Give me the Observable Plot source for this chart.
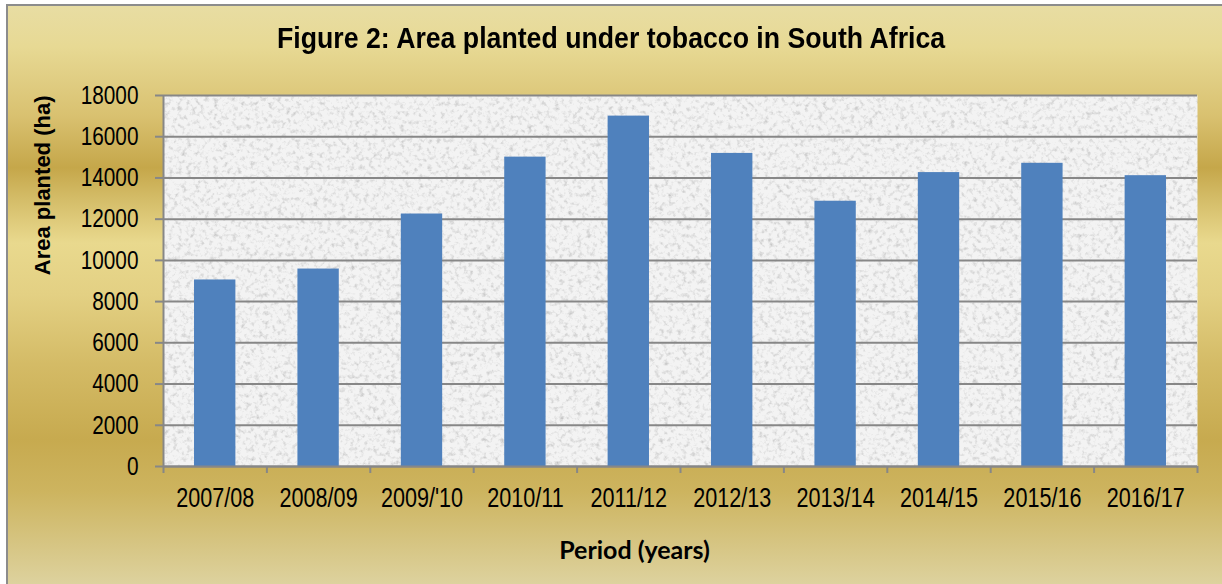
<!DOCTYPE html>
<html>
<head>
<meta charset="utf-8">
<script src="https://cdn.jsdelivr.net/npm/d3@7"></script>
<script src="https://cdn.jsdelivr.net/npm/@observablehq/plot@0.6"></script>
<style>
  html, body { margin: 0; padding: 0; background: #ffffff; }
  #outer { position: relative; width: 1222px; height: 584px; overflow: hidden; background: #fff; }
  #panel {
    position: absolute; left: 6px; top: 4px; right: 0; bottom: 0;
    border-left: 2px solid #8c8c8c; border-top: 2px solid #8c8c8c;
    background: linear-gradient(to bottom,
      #e8dda3 0%, #e7d994 7%, #d9c170 19%, #c5a74a 28%, #d3bb66 33%,
      #e9d98e 41%, #e3d083 50%, #d4bb66 62%, #c7aa4f 75%, #cdb45f 84%, #ddd29e 100%);
  }
  #chart { position: absolute; left: 0; top: 0; width: 1222px; height: 584px; }
  #title {
    height: 70px; line-height: 1; box-sizing: border-box; padding-top: 24px;
    text-align: center; font-family: "Liberation Sans", Arial, sans-serif;
    font-weight: bold; font-size: 29px; color: #000; white-space: nowrap;
  }
  #title span { display: inline-block; transform: scaleX(0.92); transform-origin: 50% 50%; }
</style>
</head>
<body>
<div id="outer">
  <div id="panel"></div>
  <div id="chart">
    <div id="title"><span>Figure 2: Area planted under tobacco in South Africa</span></div>
  </div>
</div>
<script>
const periods = ["2007/08", "2008/09", "2009/'10", "2010/11", "2011/12", "2012/13", "2013/14", "2014/15", "2015/16", "2016/17"];
const areaPlanted = [9050, 9580, 12250, 15010, 17000, 15190, 12870, 14260, 14710, 14110];
const yTicks = [0, 2000, 4000, 6000, 8000, 10000, 12000, 14000, 16000, 18000];
const yLabel = "Area planted (ha)";
const xLabel = "Period (years)";

const data = periods.map((p, i) => ({i, period: p, area: areaPlanted[i]}));
const boundaries = d3.range(-0.5, periods.length, 1);
const BAR_HALF = 0.2;
const sans = '"Liberation Sans", Arial, sans-serif';
const gridColor = "#878787";

const chart = Plot.plot({
  width: 1222,
  height: 514,
  marginTop: 25,
  marginBottom: 118,
  marginLeft: 163,
  marginRight: 25,
  style: {background: "transparent", fontFamily: sans, color: "#000", overflow: "visible"},
  x: {domain: [-0.5, periods.length - 0.5], axis: null},
  y: {domain: [0, 18000], axis: null},
  marks: [
    Plot.frame({fill: "#f3f3f3", stroke: null}),
    Plot.gridY(yTicks, {stroke: gridColor, strokeOpacity: 1, strokeWidth: 2}),
    Plot.rectY(data, {x1: d => d.i - BAR_HALF, x2: d => d.i + BAR_HALF, y: "area", fill: "#4f81bd"}),
    Plot.ruleY([0], {stroke: gridColor, strokeWidth: 2}),
    Plot.ruleX([-0.5], {stroke: gridColor, strokeWidth: 2}),
    Plot.axisY({ticks: yTicks, tickSize: 8, tickPadding: 17, fontSize: 26, stroke: gridColor, strokeWidth: 2, tickFormat: d => String(d), label: null}),
    Plot.axisX({ticks: d3.range(periods.length), tickSize: 0, tickPadding: 21, fontSize: 27, tickFormat: i => periods[i], label: null}),
    Plot.axisX({ticks: boundaries, tickSize: 7, tickFormat: () => "", stroke: gridColor, strokeWidth: 2, label: null}),
    Plot.text([yLabel], {text: d => d, frameAnchor: "top-left", rotate: -90, textAnchor: "end", lineAnchor: "middle", dx: -121, fontSize: 22, fontWeight: "bold", fill: "#000"}),
    Plot.text([xLabel], {text: d => d, frameAnchor: "bottom-left", textAnchor: "middle", lineAnchor: "middle", dx: 471, dy: 84, fontSize: 25, fontWeight: "bold", fontFamily: "Lato, sans-serif", fill: "#000"})
  ]
});

// granite-like texture on the plot area
const ns = "http://www.w3.org/2000/svg";
const svg = chart.tagName.toLowerCase() === "svg" ? chart : chart.querySelector("svg");
const defs = document.createElementNS(ns, "defs");
defs.innerHTML = `
  <filter id="granite" x="0" y="0" width="1" height="1">
    <feTurbulence type="fractalNoise" baseFrequency="0.22" numOctaves="3" seed="7" result="n"/>
    <feColorMatrix in="n" type="matrix" values="0 0 0 0 0.5  0 0 0 0 0.5  0 0 0 0 0.5  2.0 0 0 0 -0.98" result="s"/>
    <feComposite in="s" in2="SourceGraphic" operator="atop"/>
  </filter>`;
svg.insertBefore(defs, svg.firstChild);
const frame = svg.querySelector('[aria-label="frame"]');
if (frame) frame.setAttribute("filter", "url(#granite)");

document.getElementById("chart").appendChild(chart);

// narrow (Arial Narrow–like) rendering of the tick labels
function condense(el, f) {
  const w = el.getComputedTextLength();
  if (w > 0) {
    el.setAttribute("textLength", (w * f).toFixed(2));
    el.setAttribute("lengthAdjust", "spacingAndGlyphs");
  }
}
svg.querySelectorAll('[aria-label$="tick label"] text').forEach(t => condense(t, 0.80));
</script>
</body>
</html>
